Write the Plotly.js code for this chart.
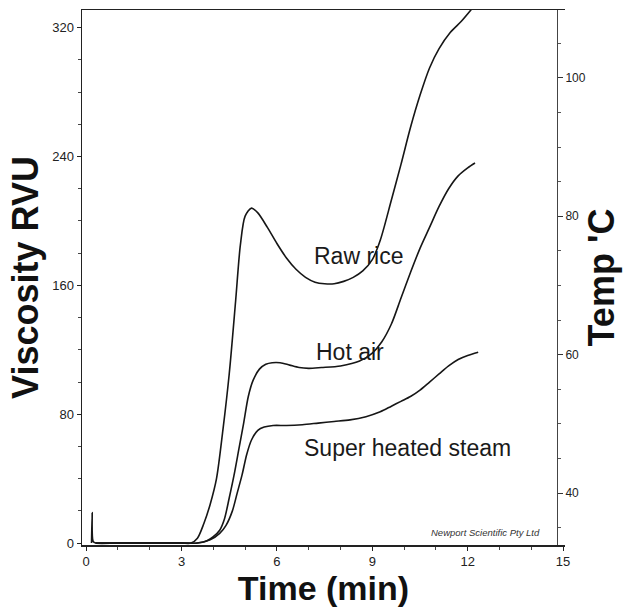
<!DOCTYPE html>
<html>
<head>
<meta charset="utf-8">
<script src="https://cdn.plot.ly/plotly-3.0.1.min.js"></script>
<style>
html,body{margin:0;padding:0;background:#fff;}
#chart{width:631px;height:611px;}
</style>
</head>
<body>
<div id="chart"></div>
<script>
// Time (min) and viscosity (RVU)
const rawTime = [0.17, 0.19, 0.22, 0.3, 1, 2, 3, 3.3, 3.5, 3.7, 3.9, 4.1, 4.3, 4.5, 4.7, 4.85, 5.0, 5.2, 5.4, 5.7, 6.0, 6.3, 6.6, 6.9, 7.2, 7.5, 7.8, 8.1, 8.4, 8.7, 9.0, 9.25, 9.6, 9.9, 10.2, 10.5, 10.8, 11.1, 11.45, 11.8, 12.1, 12.3];
const rawVisc = [0, 19, 1, 0, 0, 0, 0, 0, 3, 12, 24, 40, 70, 105, 150, 185, 203, 208, 205, 196, 186, 177, 170, 165, 162, 161, 161, 162.5, 165, 169, 176, 188, 213, 235, 258, 278, 295, 307, 317, 324, 331, 336];

const hotTime = [0.3, 1, 2, 3, 3.5, 3.8, 4.0, 4.2, 4.35, 4.5, 4.65, 4.8, 4.95, 5.1, 5.25, 5.45, 5.65, 5.85, 6.1, 6.4, 6.7, 7.0, 7.4, 8.0, 8.6, 9.0, 9.3, 9.6, 9.9, 10.2, 10.5, 10.8, 11.1, 11.4, 11.7, 12.0, 12.23];
const hotVisc = [0, 0, 0, 0, 0, 1.5, 4, 8, 15, 28, 42, 58, 74, 91, 101, 108, 111, 112, 112, 110.5, 109, 108.5, 109, 110, 113, 118, 125, 136, 152, 168, 183, 196, 209, 220, 228, 233, 236];

const steamTime = [0.3, 1, 2, 3, 3.5, 3.9, 4.2, 4.4, 4.6, 4.75, 4.9, 5.05, 5.2, 5.4, 5.6, 5.88, 6.3, 6.8, 7.3, 7.8, 8.3, 8.8, 9.25, 9.6, 9.9, 10.2, 10.5, 10.8, 11.1, 11.4, 11.7, 12.0, 12.33];
const steamVisc = [0, 0, 0, 0, 0, 2, 6, 11, 20, 31, 42, 55, 64, 70, 72, 73, 73, 73.5, 74.5, 75.5, 76.5, 78.5, 81.5, 85, 88, 91, 95, 100, 105, 110, 114, 116.5, 118.5];

// Temperature axis (deg C) tick labels
const tempTicks = [40, 60, 80, 100];
const viscTicks = [0, 80, 160, 240, 320];
const timeTicks = [0, 3, 6, 9, 12, 15];

const seriesNames = ["Raw rice", "Hot air", "Super heated steam"];
const labelTime = [8.58, 8.3, 10.1];
const labelVisc = [178, 118.6, 59];

const xTitle = "Time (min)";
const yTitle = "Viscosity RVU";
const y2Title = "Temp 'C";
const credit = "Newport Scientific Pty Ltd";

const FONT = "Liberation Sans, Arial, Helvetica, sans-serif";
const lineStyle = {color: "#161616", width: 1.6, shape: "spline", smoothing: 0.8};

const traces = [
  {x: rawTime, y: rawVisc, name: seriesNames[0]},
  {x: hotTime, y: hotVisc, name: seriesNames[1]},
  {x: steamTime, y: steamVisc, name: seriesNames[2]}
].map(t => Object.assign(t, {type: "scatter", mode: "lines", line: lineStyle, hoverinfo: "skip"}));
// empty trace so the temperature axis is drawn
traces.push({x: [], y: [], yaxis: "y2", type: "scatter", mode: "lines", showlegend: false, hoverinfo: "skip"});

const annotations = seriesNames.map((n, i) => ({
  x: labelTime[i], y: labelVisc[i], xref: "x", yref: "y", text: n, showarrow: false,
  font: {family: FONT, size: 23, color: "#1a1a1a"}
}));
annotations.push({
  x: 12.55, y: 2, xref: "x", yref: "y", text: "<i>" + credit + "</i>", showarrow: false,
  yanchor: "bottom", font: {family: FONT, size: 9.5, color: "#333"}
});

const layout = {
  width: 631, height: 611,
  margin: {l: 82, r: 66, t: 10, b: 66},
  paper_bgcolor: "#fff", plot_bgcolor: "#fff",
  showlegend: false,
  font: {family: FONT, color: "#222"},
  xaxis: {
    range: [-0.13, 15.06], tickvals: timeTicks,
    showgrid: false, zeroline: false, showline: true, mirror: true,
    linecolor: "#222", linewidth: 1.5,
    ticks: "outside", ticklen: 4, tickcolor: "#222",
    minor: {dtick: 1, ticks: "outside", ticklen: 3, tickcolor: "#444"},
    tickfont: {family: FONT, size: 13, color: "#222"},
    title: {text: xTitle, font: {family: FONT, size: 34, color: "#111", weight: "bold"}, standoff: 6}
  },
  yaxis: {
    range: [-1.2, 331], tickvals: viscTicks,
    showgrid: false, zeroline: false, showline: true,
    linecolor: "#222", linewidth: 1.5,
    ticks: "outside", ticklen: 4, tickcolor: "#222",
    minor: {dtick: 20, ticks: "outside", ticklen: 3, tickcolor: "#444"},
    tickfont: {family: FONT, size: 13, color: "#222"},
    title: {text: yTitle, font: {family: FONT, size: 36, color: "#111", weight: "bold"}, standoff: 2}
  },
  yaxis2: {
    overlaying: "y", side: "right", anchor: "free", position: 0.983,
    range: [32.5, 109.8], tickvals: tempTicks,
    showgrid: false, zeroline: false, showline: true,
    linecolor: "#444", linewidth: 1.2,
    ticks: "outside", ticklen: 5, tickcolor: "#333",
    minor: {dtick: 5, ticks: "outside", ticklen: 3, tickcolor: "#555"},
    tickfont: {family: FONT, size: 12, color: "#222"},
    title: {text: y2Title, font: {family: FONT, size: 36, color: "#111", weight: "bold"}, standoff: 4}
  },
  annotations: annotations
};

Plotly.newPlot("chart", traces, layout, {staticPlot: true, displayModeBar: false});
</script>
</body>
</html>
